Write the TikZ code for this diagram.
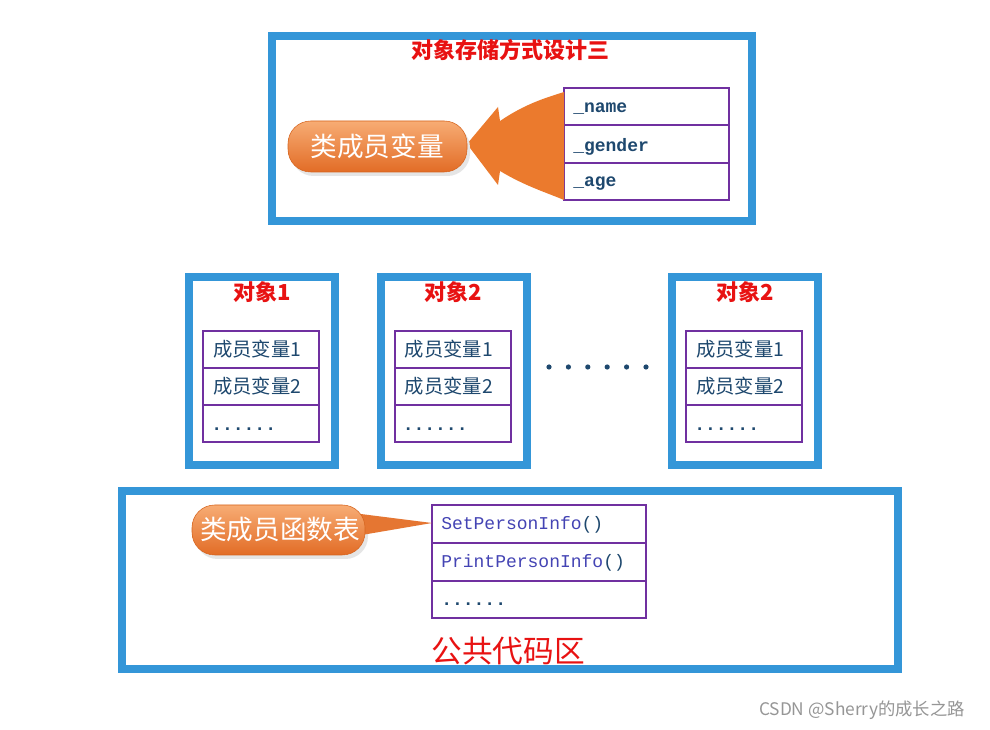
\documentclass[tikz,border=0pt]{standalone}
\usepackage{fontspec}
\setmainfont{Liberation Serif}
\newfontfamily\cjk{Noto Sans CJK SC}
\newfontfamily\codefont{Liberation Mono}
\usetikzlibrary{calc}

\definecolor{frameblue}{RGB}{52,150,216}
\definecolor{cellpurple}{RGB}{112,48,160}
\definecolor{textblue}{RGB}{30,72,110}
\definecolor{codeblue}{RGB}{68,68,180}
\definecolor{titlered}{RGB}{232,18,18}
\definecolor{arroworange}{RGB}{235,122,45}
\definecolor{pilltop}{RGB}{247,172,116}
\definecolor{pillbot}{RGB}{226,108,38}
\definecolor{pilledge}{RGB}{214,100,30}
\definecolor{markgray}{RGB}{150,150,150}

\begin{document}
\begin{tikzpicture}[x=0.75pt,y=0.75pt,yscale=-1,xscale=1,
  frame/.style={draw=frameblue,line width=6pt},
  cell/.style={draw=cellpurple,line width=1.5pt},
  pill/.style={top color=pilltop,bottom color=pillbot,draw=pilledge,rounded corners=17pt},
  boxtitle/.style={text=titlered,font=\cjk\bfseries\fontsize{16.5}{18}\selectfont,inner sep=0pt},
  celltext/.style={anchor=west,text=textblue,font=\cjk\fontsize{14.5}{16}\selectfont,inner sep=0pt},
  fieldtext/.style={anchor=west,text=textblue,font=\codefont\bfseries\fontsize{13.5}{15}\selectfont,inner sep=0pt},
  codetext/.style={anchor=west,text=codeblue,font=\codefont\fontsize{13.5}{15}\selectfont,inner sep=0pt},
  pilltext/.style={text=white,font=\cjk\fontsize{20}{22}\selectfont,inner sep=0pt}]
\useasboundingbox (0,0) rectangle (990,730);
\fill [white] (0,0) rectangle (990,730);

%Shape: Rectangle [top frame]
\draw [frame] (272,36) rectangle (752,221.5) ;
% Text Node
\node [boxtitle] (title) at (510,50) {对象存储方式设计三};

%Shape: Table [fields]
\draw [cell] (564,88) rectangle (729,200) ;
\draw [cell] (564,125.5) -- (729,125.5) ;
\draw [cell] (564,163) -- (729,163) ;
% Text Node
\node [fieldtext] (name) at (573,109) {\_name};
\node [fieldtext] (gender) at (573,147) {\_gender};
\node [fieldtext] (age) at (573,184) {\_age};

%Shape: Big arrow
\fill [arroworange] (467,144) -- (498,107) -- (500,121)
  .. controls (525,104) and (545,98) .. (564,92) -- (564,200)
  .. controls (545,192) and (525,186) .. (500,171) -- (498,185) -- cycle ;

%Shape: Pill [class members]
\fill [black!10, rounded corners=17pt] (291,125) rectangle (470,176) ;
\shade [pill] (288,121) rectangle (467,172) ;
% Text Node
\node [pilltext] (members) at (377,146) {类成员变量};

%Shape: Object frames
\foreach \x/\n/\lab in {189/1/对象1, 380.5/2/对象2, 672/3/对象2}{
  \draw [frame] (\x,277) rectangle ($(\x,465)+(146,0)$) ;
  \node [boxtitle] (objtitle\n) at ($(\x,292)+(73,0)$) {\lab};
  \draw [cell] ($(\x,331)+(14,0)$) rectangle ($(\x,442.5)+(130,0)$) ;
  \draw [cell] ($(\x,368)+(14,0)$) -- ($(\x,368)+(130,0)$) ;
  \draw [cell] ($(\x,405)+(14,0)$) -- ($(\x,405)+(130,0)$) ;
  \node [celltext] (var1\n) at ($(\x,349.5)+(24,0)$) {成员变量1};
  \node [celltext] (var2\n) at ($(\x,386.5)+(24,0)$) {成员变量2};
  \node [fieldtext] (more\n) at ($(\x,429)+(22,0)$) {......};
}

%Shape: Dots between objects
\foreach \i in {0,...,5}{
  \fill [textblue] (549+19.4*\i,367) circle (2.6) ;
}

%Shape: Rectangle [bottom frame]
\draw [frame] (122,491) rectangle (898,669) ;

%Shape: Table [functions]
\draw [cell] (432,505) rectangle (646,618) ;
\draw [cell] (432,543) -- (646,543) ;
\draw [cell] (432,581) -- (646,581) ;
% Text Node
\node [codetext] (setinfo) at (441,525) {SetPersonInfo{\color{textblue}()}};
\node [codetext] (printinfo) at (441,563) {PrintPersonInfo{\color{textblue}()}};
\node [fieldtext] (morefn) at (441,604) {......};

%Shape: Callout [function table]
\fill [black!10, rounded corners=17pt] (195,509) rectangle (368,559) ;
\fill [pillbot!85!pilltop] (345,512) -- (432,523) -- (350,537) -- cycle ;
\shade [pill] (192,505) rectangle (365,555) ;
% Text Node
\node [pilltext] (functions) at (280,529) {类成员函数表};

% Text Node
\node [text=titlered,font=\cjk\fontsize{23}{25}\selectfont,inner sep=0pt] (codearea) at (508,651) {公共代码区};
% Text Node
\node [text=markgray,font=\cjk\fontsize{13}{15}\selectfont,inner sep=0pt] (mark) at (862,710) {CSDN @Sherry的成长之路};

\end{tikzpicture}
\end{document}
